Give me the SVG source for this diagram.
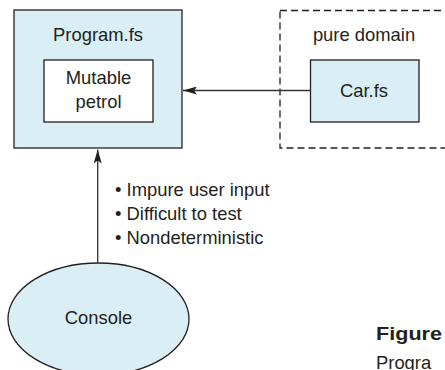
<svg xmlns="http://www.w3.org/2000/svg" width="445" height="370" viewBox="0 0 445 370">
<style>
text{font-family:"Liberation Sans",Arial,sans-serif;font-size:18.4px;fill:#231f20}
.c{text-anchor:middle}
.box{fill:#d9eef5;stroke:#231f20;stroke-width:1.3}
.w{fill:#ffffff;stroke:#231f20;stroke-width:1.3}
.con{stroke:#333333;stroke-width:1.3;fill:none}
</style>
<defs>
<marker id="ah" markerWidth="14" markerHeight="8" refX="14" refY="4" orient="auto" markerUnits="userSpaceOnUse">
<path d="M0,0 L14,4 L0,8 L3,4 Z" fill="#231f20"/>
</marker>
</defs>
<rect width="445" height="370" fill="#ffffff"/>
<g id="pure-domain">
<rect x="280" y="10.5" width="180" height="137.5" fill="none" stroke="#231f20" stroke-width="1.3" stroke-dasharray="7,4"/>
<text class="c" x="364" y="41">pure domain</text>
</g>
<g id="program">
<rect class="box" x="14" y="10" width="168" height="138"/>
<text class="c" x="98" y="41">Program.fs</text>
</g>
<g id="mutable-petrol">
<rect class="w" x="44" y="60" width="109" height="62"/>
<text class="c" x="98.5" y="84">Mutable</text>
<text class="c" x="98.5" y="108">petrol</text>
</g>
<g id="car">
<rect class="box" x="310.5" y="60" width="108.5" height="62"/>
<text class="c" x="364" y="97">Car.fs</text>
</g>
<g id="console">
<ellipse class="box" cx="98.5" cy="319" rx="90.5" ry="56"/>
<text class="c" x="98.5" y="324">Console</text>
</g>
<g id="connectors">
<line class="con" x1="310.5" y1="90.5" x2="183" y2="90.5" marker-end="url(#ah)"/>
<line class="con" x1="97.7" y1="263" x2="97.7" y2="149.5" marker-end="url(#ah)"/>
</g>
<g id="notes">
<text x="115" y="196">• Impure user input</text>
<text x="115" y="220">• Difficult to test</text>
<text x="115" y="244">• Nondeterministic</text>
</g>
<g id="caption">
<text x="376" y="339.5" font-weight="bold" textLength="66" lengthAdjust="spacingAndGlyphs" style="font-size:18px">Figure</text>
<text x="376" y="369">Progra</text>
</g>
</svg>
